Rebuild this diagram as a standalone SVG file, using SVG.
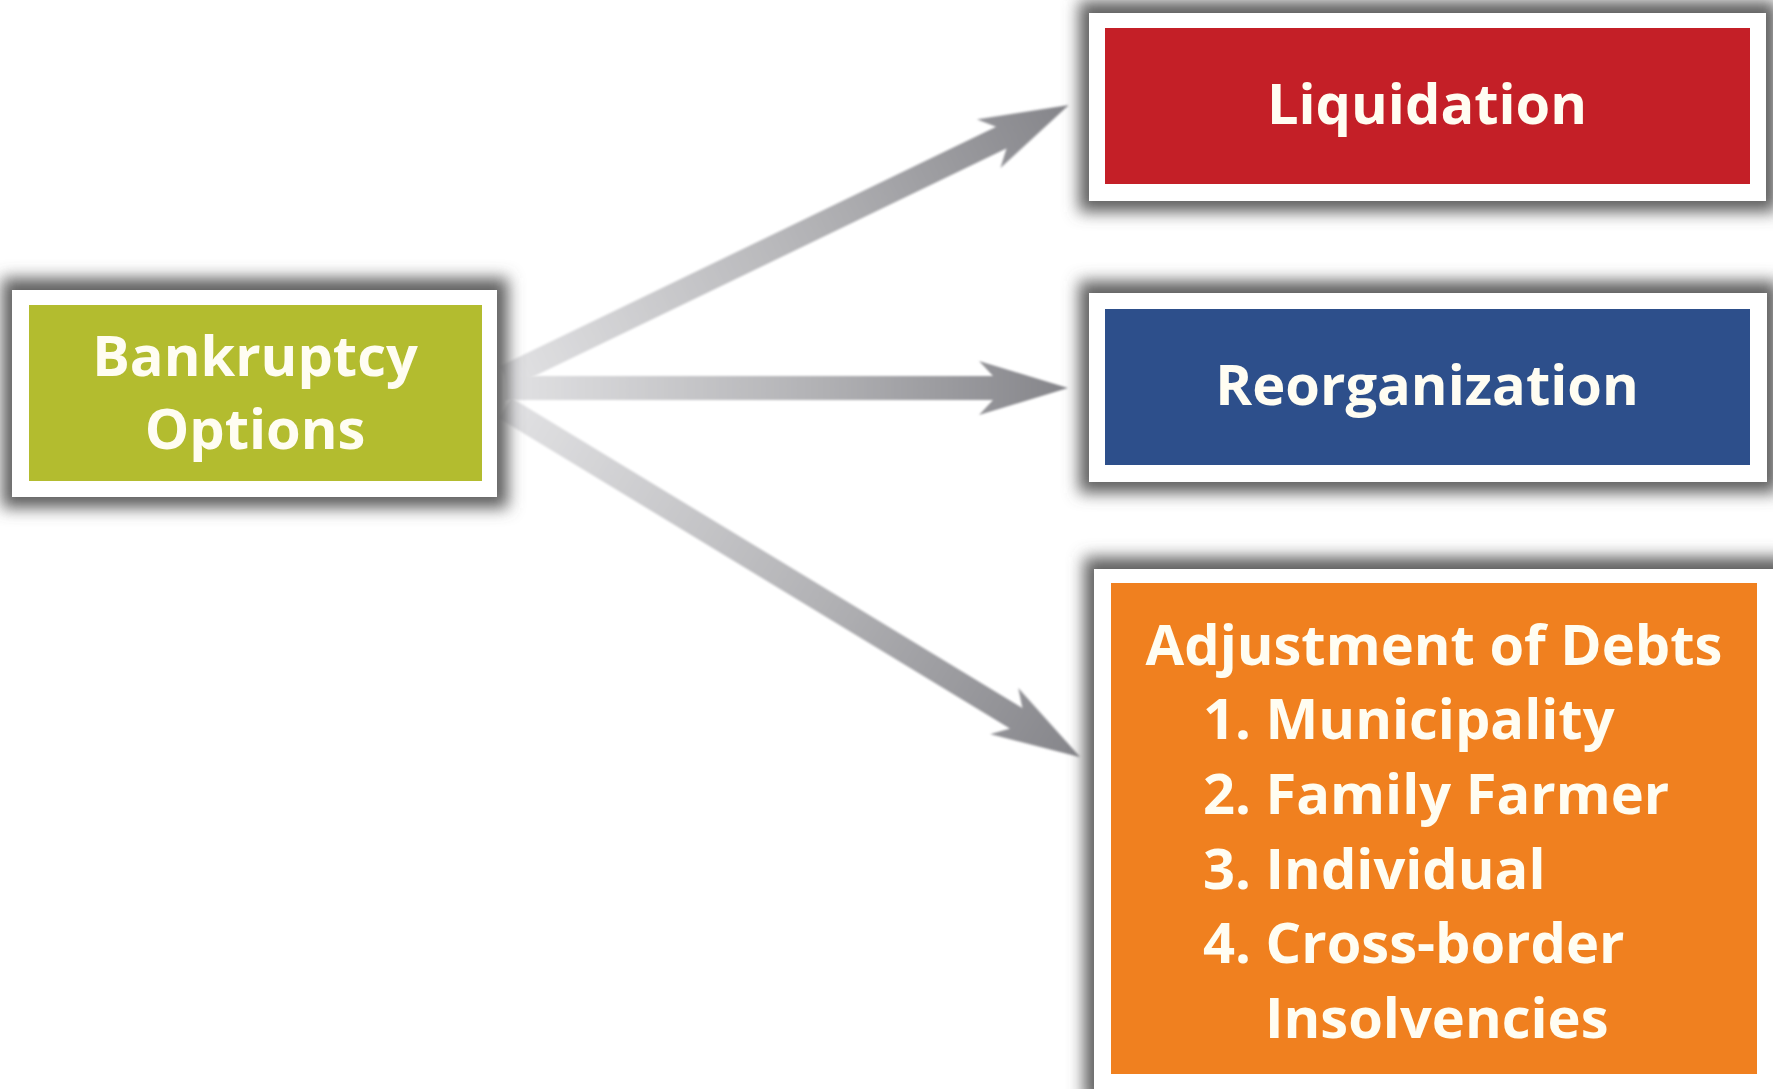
<svg xmlns="http://www.w3.org/2000/svg" width="1773" height="1089" viewBox="0 0 1773 1089">
  <style>
    .lbl { font-family: "Open Sans", "Noto Sans", "DejaVu Sans", sans-serif; font-weight: 700; font-size: 56px; fill: #fffdf2; }
    .mid { text-anchor: middle; }
    .frame { fill: #ffffff; }
    .shadow { fill: #5e5e5e; filter: url(#blur); }
    .arrow { fill: url(#arrowGrad); filter: url(#soft); }
  </style>
  <defs>
    <filter id="blur" x="-10%" y="-20%" width="120%" height="140%">
      <feGaussianBlur stdDeviation="8"/>
    </filter>
    <filter id="soft" x="-5%" y="-20%" width="110%" height="140%">
      <feGaussianBlur stdDeviation="0.8"/>
    </filter>
    <linearGradient id="arrowGrad" x1="0" y1="0" x2="1" y2="0">
      <stop offset="0" stop-color="#e2e2e4"/>
      <stop offset="0.55" stop-color="#b2b2b5"/>
      <stop offset="1" stop-color="#85858a"/>
    </linearGradient>
  </defs>
  <rect width="1773" height="1089" fill="#ffffff"/>

  <g id="connectors">
    <path class="arrow" transform="translate(505,377) rotate(-25.75)" d="M0,-12 L551,-12 L537,-27 L626,0 L537,27 L551,12 L0,12 Z"/>
    <path class="arrow" transform="translate(505,388)" d="M0,-12 L488,-12 L474,-27 L563,0 L474,27 L488,12 L0,12 Z"/>
    <path class="arrow" transform="translate(505,408) rotate(31.26)" d="M0,-12 L598,-12 L584,-27 L673,0 L584,27 L598,12 L0,12 Z"/>
  </g>

  <g id="node-bankruptcy">
    <rect class="shadow" x="2" y="278" width="506" height="230"/>
    <rect class="frame" x="12" y="290" width="485" height="207"/>
    <rect x="29" y="305" width="453" height="176" fill="#b3bc2f"/>
    <text class="lbl mid" x="255" y="376">Bankruptcy</text>
    <text class="lbl mid" x="255" y="449">Options</text>
  </g>

  <g id="node-liquidation">
    <rect class="shadow" x="1079" y="1" width="698" height="211"/>
    <rect class="frame" x="1089" y="13" width="677" height="188"/>
    <rect x="1105" y="28" width="645" height="156" fill="#c41f27"/>
    <text class="lbl mid" x="1427" y="124">Liquidation</text>
  </g>

  <g id="node-reorganization">
    <rect class="shadow" x="1079" y="281" width="699" height="212"/>
    <rect class="frame" x="1089" y="293" width="678" height="189"/>
    <rect x="1105" y="309" width="645" height="156" fill="#2d4f8b"/>
    <text class="lbl mid" x="1427" y="405">Reorganization</text>
  </g>

  <g id="node-adjustment">
    <rect class="shadow" x="1084" y="557" width="705" height="545"/>
    <rect class="frame" x="1094" y="569" width="680" height="530"/>
    <rect x="1111" y="583" width="646" height="491" fill="#f0801f"/>
    <text class="lbl mid" x="1434" y="665">Adjustment of Debts</text>
    <text class="lbl" x="1203" y="739">1. Municipality</text>
    <text class="lbl" x="1203" y="814">2. Family Farmer</text>
    <text class="lbl" x="1203" y="889">3. Individual</text>
    <text class="lbl" x="1203" y="963">4. Cross-border</text>
    <text class="lbl" x="1265" y="1038">Insolvencies</text>
  </g>
</svg>
